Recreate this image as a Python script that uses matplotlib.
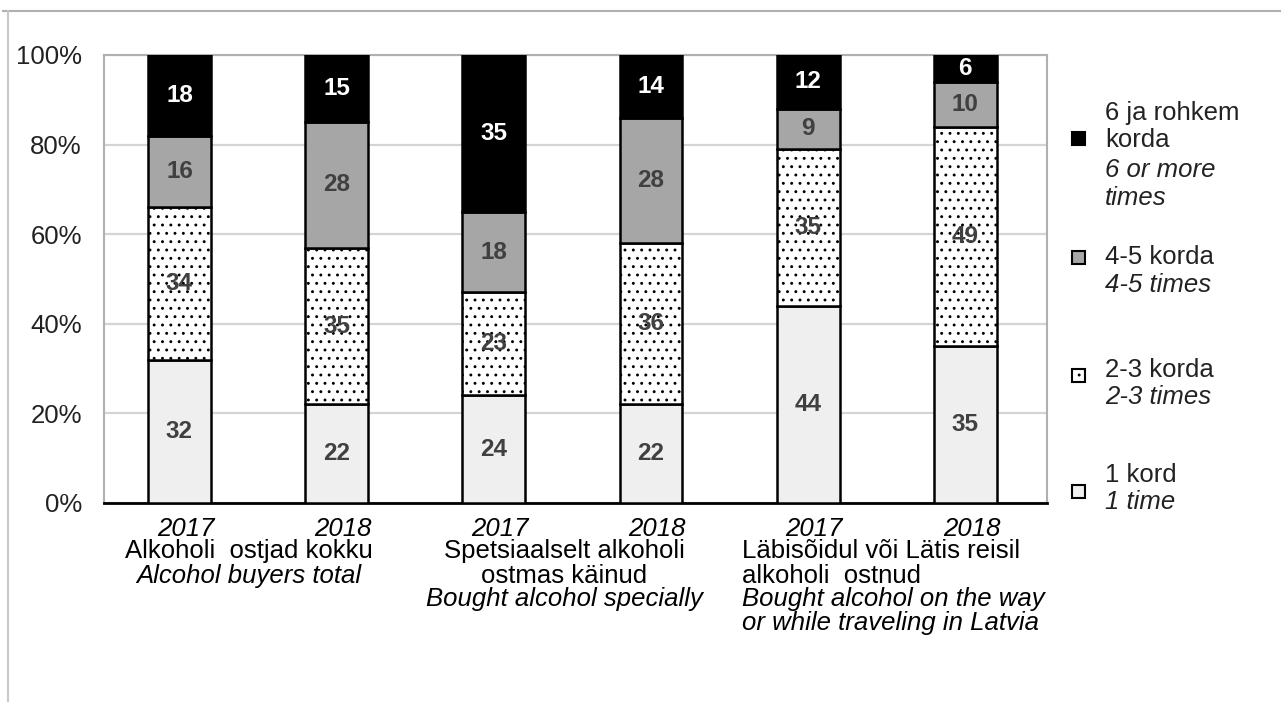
import numpy as np
import matplotlib
matplotlib.use('Agg')
import matplotlib.pyplot as plt
from matplotlib.patches import Rectangle
from matplotlib.lines import Line2D

plt.rcParams['font.family'] = ['Liberation Sans', 'DejaVu Sans']
plt.rcParams['hatch.linewidth'] = 0.9

years = ["2017", "2018", "2017", "2018", "2017", "2018"]
groups_et = [["Alkoholi  ostjad kokku"],
             ["Spetsiaalselt alkoholi", "ostmas käinud"],
             ["Läbisõidul või Lätis reisil", "alkoholi  ostnud"]]
groups_en = [["Alcohol buyers total"],
             ["Bought alcohol specially"],
             ["Bought alcohol on the way", "or while traveling in Latvia"]]

once = [32, 22, 24, 22, 44, 35]
two_three = [34, 35, 23, 36, 35, 49]
four_five = [16, 28, 18, 28, 9, 10]
six_more = [18, 15, 35, 14, 12, 6]

series = [once, two_three, four_five, six_more]
fills = ['#efefef', 'white', '#a6a6a6', 'black']
hatches = [None, '..', None, None]
txtcol = ['#404040', '#404040', '#404040', 'white']
leg_et = [["1 kord"], ["2-3 korda"], ["4-5 korda"], ["6 ja rohkem", "korda"]]
leg_en = [["1 time"], ["2-3 times"], ["4-5 times"], ["6 or more", "times"]]

FS = 18.5

fig = plt.figure(figsize=(12.81, 7.02), dpi=100)
ax = fig.add_axes([104/1281, 1-503/702, (1047-104)/1281, 448/702])

x = np.arange(len(years))
bottom = np.zeros(len(years))
for vals, fc, h, tc in zip(series, fills, hatches, txtcol):
    vals = np.array(vals, dtype=float)
    ax.bar(x - 0.02, vals, 0.4, bottom=bottom, color=fc, edgecolor='black',
           linewidth=1.8, hatch=h, zorder=3)
    for xi, b, v in zip(x, bottom, vals):
        ax.text(xi - 0.02, b + v/2, "%d" % v, ha='center', va='center', color=tc,
                fontsize=17.5, fontweight='bold', zorder=5)
    bottom += vals

ax.set_xlim(-0.5, 5.5)
ax.set_ylim(0, 100)
ax.set_yticks(np.arange(0, 101, 20))
ax.set_yticklabels(["%d%%" % v for v in range(0, 101, 20)], fontsize=FS, color='#222222')
ax.tick_params(axis='y', length=0, pad=16)
ax.set_xticks([])
ax.grid(axis='y', color='#d4d4d4', linewidth=1.6, zorder=0)
for s in ['top', 'right', 'left']:
    ax.spines[s].set_color('#b0b0b0')
    ax.spines[s].set_linewidth(1.5)
ax.spines['bottom'].set_color('black')
ax.spines['bottom'].set_linewidth(2)

tr = ax.get_xaxis_transform()
for xi, yr in zip(x, years):
    ax.text(xi + 0.02, -0.058, yr, transform=tr, ha='center', va='center',
            fontsize=FS, style='italic', color='black')
line_y = [-0.108, -0.162, -0.214, -0.267]
# group 1 and 2 centred, group 3 left aligned as in the source
grp_x = [0.42, 2.43, 3.56]
grp_ha = ['center', 'center', 'left']
for g in range(3):
    lines = [(t, 'normal') for t in groups_et[g]] + [(t, 'italic') for t in groups_en[g]]
    for (t, st), yy in zip(lines, line_y):
        ax.text(grp_x[g], yy, t, transform=tr, ha=grp_ha[g], va='center',
                fontsize=FS, style=st, color='black')

# legend drawn by hand (mixed upright / italic lines)
leg_marker_y = [492, 375, 257, 138]
leg_text_y = [[475, 502], [370, 397], [257, 285], [113, 140, 170, 198]]
for i in range(4):
    ym = 1 - leg_marker_y[i]/702
    fig.patches.append(Rectangle((1072/1281, ym - 6.5/702), 13/1281, 13/702,
                                 transform=fig.transFigure, facecolor=fills[i],
                                 edgecolor='black', linewidth=1.5,
                                 hatch=hatches[i]))
    lines = [(t, 'normal') for t in leg_et[i]] + [(t, 'italic') for t in leg_en[i]]
    for (t, st), yy in zip(lines, leg_text_y[i]):
        fig.text(1105/1281, 1 - yy/702, t, ha='left', va='center',
                 fontsize=FS, style=st, color='#222222')

# outer frame
fig.add_artist(Line2D([3/1281, 1], [1-11/702, 1-11/702], color='#b0b0b0',
                      linewidth=1.5, transform=fig.transFigure))
fig.add_artist(Line2D([8/1281, 8/1281], [0, 1-11/702], color='#c8c8c8',
                      linewidth=1.5, transform=fig.transFigure))

plt.savefig('out.png', dpi=100)
